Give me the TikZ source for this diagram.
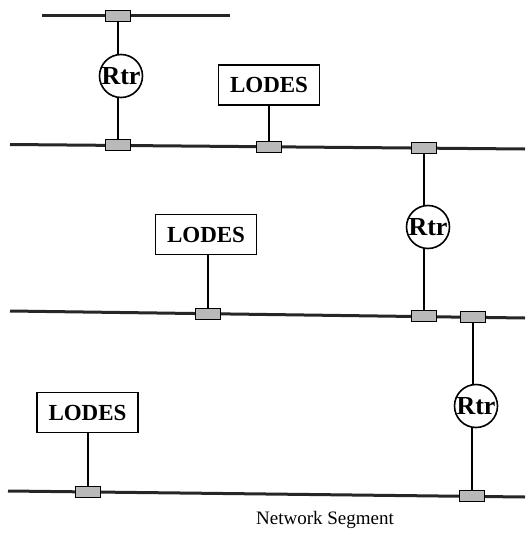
\documentclass[tikz,border=0pt]{standalone}
\usepackage{fontspec}
\setmainfont{Liberation Serif}
\begin{document}
\begin{tikzpicture}[x=1pt,y=-1pt,
  seg/.style={line width=3pt, draw=black!85},
  tap/.style={draw=black, line width=1pt, fill=gray!55, minimum width=25pt, minimum height=11pt, inner sep=0pt},
  rtr/.style={draw=black, line width=1.6pt, circle, minimum size=43pt, inner sep=0pt, font=\fontsize{26}{26}\selectfont\bfseries},
  lodes/.style={draw=black, line width=1.5pt, minimum width=101pt, minimum height=40pt, inner sep=0pt, font=\fontsize{23}{23}\selectfont\bfseries},
  link/.style={line width=1.6pt}]
\useasboundingbox (0,0) rectangle (525,533);
% network segments
\draw[seg] (42,15.5) coordinate (L0a) -- (230,15.5) coordinate (L0b);
\draw[seg] (10,144.5) coordinate (L1a) -- (525,149) coordinate (L1b);
\draw[seg] (10,311) coordinate (L2a) -- (525,318) coordinate (L2b);
\draw[seg] (8,491) coordinate (L3a) -- (525,497) coordinate (L3b);
% taps
\node[tap] (t0) at (118,16) {};
\node[tap] (t1a) at (118,145.4) {};
\node[tap] (t1b) at (269,146.6) {};
\node[tap] (t1c) at (424,148) {};
\node[tap] (t2a) at (208,313.5) {};
\node[tap] (t2b) at (424,316.3) {};
\node[tap] (t2c) at (473,317.2) {};
\node[tap] (t3a) at (88,492) {};
\node[tap] (t3b) at (472,496.4) {};
% routers
\node[rtr] (r1) at (121,76) {Rtr};
\node[rtr] (r2) at (428,227) {Rtr};
\node[rtr] (r3) at (476,406) {Rtr};
% LODES
\node[lodes] (b1) at (269,85) {LODES};
\node[lodes] (b2) at (206,234.5) {LODES};
\node[lodes] (b3) at (87.5,412.5) {LODES};
% links
\draw[link] (t0.south) -- (t0.south |- r1.north);
\draw[link] (t1a.north) -- (t1a.north |- r1.south);
\draw[link] (t1c.south) -- (t1c.south |- r2.north);
\draw[link] (t2b.north) -- (t2b.north |- r2.south);
\draw[link] (t2c.south) -- (t2c.south |- r3.north);
\draw[link] (t3b.north) -- (t3b.north |- r3.south);
\draw[link] (b1.south -| t1b.north) -- (t1b.north);
\draw[link] (b2.south -| t2a.north) -- (t2a.north);
\draw[link] (b3.south -| t3a.north) -- (t3a.north);
% caption
\node[font=\fontsize{19}{19}\selectfont] (cap) at (325,520) {Network Segment};
\end{tikzpicture}
\end{document}
